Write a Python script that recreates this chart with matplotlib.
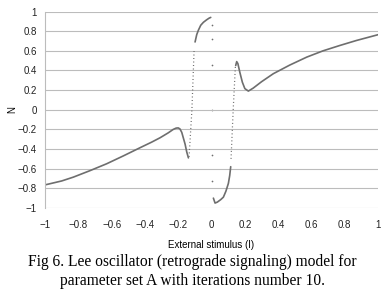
import matplotlib
matplotlib.use('Agg')
import matplotlib.pyplot as plt

# Smooth branches of the response curve (I, N)
left_x = [-1.0, -0.9, -0.83, -0.73, -0.63, -0.53, -0.43, -0.36, -0.309, -0.26, -0.23, -0.213,
          -0.2, -0.19, -0.179, -0.169, -0.159, -0.149, -0.139]
left_y = [-0.765, -0.725, -0.686, -0.62, -0.55, -0.47, -0.387, -0.33, -0.285, -0.235, -0.2, -0.187,
          -0.185, -0.195, -0.23, -0.29, -0.35, -0.43, -0.49]

top_x = [-0.099, -0.089, -0.079, -0.065, -0.049, -0.03, -0.015, -0.005]
top_y = [0.69, 0.765, 0.81, 0.86, 0.89, 0.915, 0.932, 0.94]

bottom_x = [0.011, 0.021, 0.035, 0.055, 0.071, 0.086, 0.101, 0.109, 0.115]
bottom_y = [-0.9, -0.95, -0.94, -0.915, -0.89, -0.83, -0.75, -0.67, -0.58]

right_x = [0.145, 0.151, 0.158, 0.17, 0.185, 0.2, 0.221, 0.25, 0.3, 0.371, 0.47, 0.572,
           0.67, 0.772, 0.87, 1.0]
right_y = [0.45, 0.49, 0.47, 0.38, 0.28, 0.215, 0.19, 0.22, 0.285, 0.367, 0.455, 0.536,
           0.6, 0.655, 0.705, 0.764]

# Fast transitions (sparse iterates)
jump1_x = [-0.135, -0.118, -0.105]
jump1_y = [-0.48, 0.0, 0.6]
jump2_x = [0.117, 0.13, 0.143]
jump2_y = [-0.5, 0.0, 0.44]
iso_x = [0.0, 0.0, 0.001, 0.002, 0.003, 0.004]
iso_y = [0.86, 0.72, 0.46, 0.0, -0.46, -0.73]

ticks = [-1, -0.8, -0.6, -0.4, -0.2, 0, 0.2, 0.4, 0.6, 0.8, 1]
tick_labels = ['\u22121', '\u22120.8', '\u22120.6', '\u22120.4', '\u22120.2', '0',
               '0.2', '0.4', '0.6', '0.8', '1']

col = '#6e6e6e'

fig = plt.figure(figsize=(3.85, 2.95), dpi=100)
ax = fig.add_axes([0.117, 0.295, 0.865, 0.666])

for xs, ys in [(left_x, left_y), (top_x, top_y), (bottom_x, bottom_y), (right_x, right_y)]:
    ax.plot(xs, ys, color=col, lw=1.2, solid_capstyle='round')
for xs, ys in [(jump1_x, jump1_y), (jump2_x, jump2_y)]:
    ax.plot(xs, ys, color=col, lw=0.9, linestyle=(0, (0.8, 2.0)))
ax.scatter(iso_x, iso_y, s=1.5, color=col, lw=0)

ax.set_xlim(-1, 1)
ax.set_ylim(-1, 1)
ax.set_xticks(ticks)
ax.set_xticklabels(tick_labels)
ax.set_yticks(ticks)
ax.set_yticklabels(tick_labels)
ax.tick_params(length=0, labelsize=7, colors='#222222')
ax.tick_params(axis='x', pad=9)
ax.tick_params(axis='y', pad=6)
for lab in ax.get_xticklabels() + ax.get_yticklabels():
    lab.set_family('Liberation Sans')
ax.grid(axis='y', color='#bcbcbc', lw=0.8)
for s in ['top', 'right', 'bottom']:
    ax.spines[s].set_visible(False)
ax.spines['left'].set_color('#bcbcbc')
ax.spines['left'].set_linewidth(0.8)

ax.set_xlabel('External stimulus (I)', fontsize=7, family='Liberation Sans', labelpad=7)
ax.set_ylabel('N', fontsize=7, family='Liberation Sans', labelpad=0)

fig.text(0.5, 0.08, 'Fig 6. Lee oscillator (retrograde signaling) model for\n'
         'parameter set A with iterations number 10.',
         ha='center', va='center', fontsize=11.2, family='Liberation Serif',
         linespacing=1.2)

fig.savefig('out.png', dpi=100)
